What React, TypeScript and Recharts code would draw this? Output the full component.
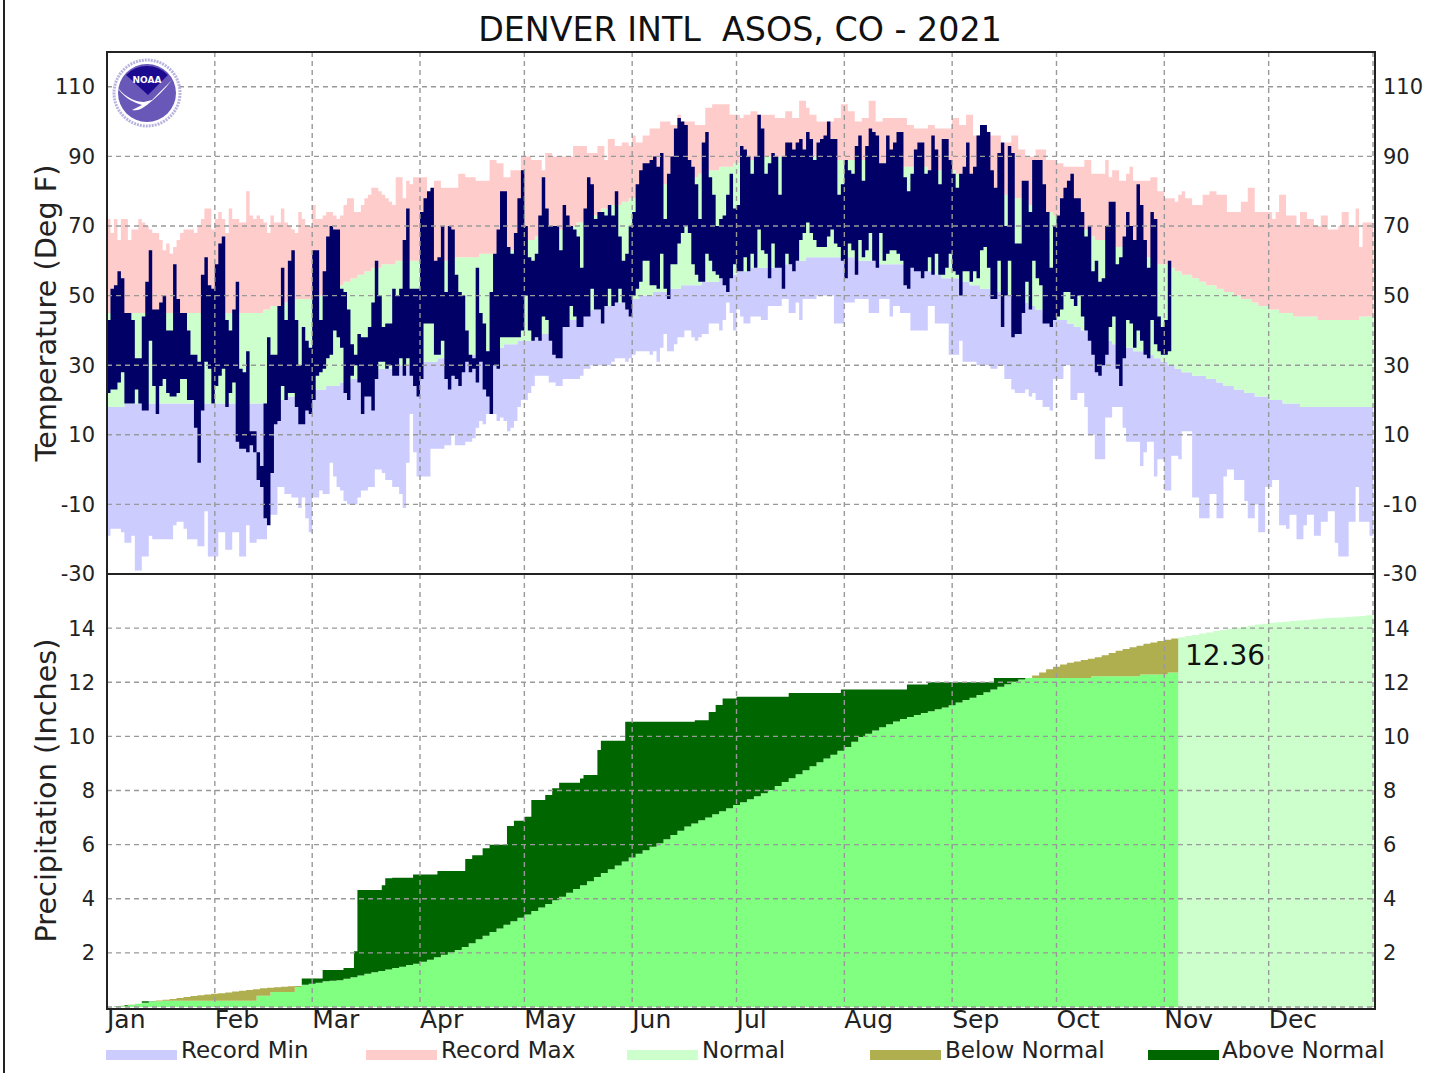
import React from "react";
import { Area, CartesianGrid, ComposedChart, XAxis, YAxis } from "recharts";

const monthLabels = ["Jan", "Feb", "Mar", "Apr", "May", "Jun", "Jul", "Aug", "Sep", "Oct", "Nov", "Dec"];
const monthDays = [0, 31, 59, 90, 120, 151, 181, 212, 243, 273, 304, 334];
const tempTicks = [-30, -10, 10, 30, 50, 70, 90, 110];
const precipTicks = [2, 4, 6, 8, 10, 12, 14];

const obsHigh = [
  43,52,53,57,55,45,45,43,32,32,44,54,63,46,46,48,50,40,40,59,49,45,45,40,33,33,31,56,61,53,52,
  59,65,67,43,40,46,54,29,28,34,11,11,5,1,19,38,33,33,47,58,43,60,63,43,30,41,37,35,
  63,63,43,57,67,70,69,69,52,51,46,36,33,39,38,38,41,48,60,50,41,42,42,52,50,52,66,75,52,52,52,
  74,78,80,81,60,61,70,51,70,69,56,51,50,40,33,32,58,45,42,34,51,62,69,80,80,64,62,68,78,86,
  70,61,60,62,73,84,75,70,70,70,63,76,73,70,69,67,58,75,84,82,72,74,74,73,76,73,80,67,60,62,70,
  74,82,86,88,88,89,90,87,91,72,85,90,98,101,100,99,89,87,82,72,94,97,84,79,70,72,73,79,85,75,
  76,93,92,90,85,90,102,98,85,88,91,90,79,90,94,94,92,94,95,92,97,95,89,94,95,96,100,95,95,79,82,
  89,86,85,93,96,83,93,98,97,96,88,88,96,92,94,97,97,84,80,85,92,94,94,85,86,96,92,82,95,95,89,
  85,81,85,87,94,85,87,96,99,99,97,86,81,91,94,70,93,91,65,65,83,83,74,89,89,89,82,74,58,70,
  73,78,81,83,85,78,78,74,67,70,57,60,54,55,70,77,77,59,61,67,74,70,66,82,76,66,58,74,72,44,41,
  43,60,
];
const obsLow = [
  22,23,23,25,28,19,19,19,23,19,17,17,37,24,16,24,26,22,21,21,22,26,26,20,20,12,2,17,31,29,19,
  24,27,29,18,22,25,8,6,6,5,7,5,-3,-5,-14,-16,-1,13,14,24,20,22,22,18,13,13,17,16,
  20,27,28,29,32,33,40,38,35,22,20,27,30,25,16,21,21,17,26,31,31,29,30,27,27,32,27,32,27,24,21,
  26,42,42,42,33,33,37,26,23,27,26,24,28,31,28,29,25,31,23,21,16,30,29,38,38,38,38,38,38,40,
  50,40,37,38,37,44,43,37,33,32,32,41,41,47,44,41,41,44,44,52,46,46,42,47,52,47,48,52,48,46,44,
  50,52,54,60,60,53,53,52,62,52,49,59,59,65,68,70,68,59,56,54,54,62,60,57,56,55,53,51,55,59,
  57,57,61,57,62,58,69,63,62,55,65,58,58,52,62,59,57,60,66,68,71,68,66,64,64,64,67,69,65,64,60,
  55,65,63,56,66,61,63,68,60,58,68,60,62,63,63,62,60,53,52,58,57,57,55,57,61,56,62,56,56,58,62,
  57,56,50,57,57,54,57,55,63,64,58,49,49,60,41,50,60,38,39,39,45,54,46,60,55,53,42,42,41,43,
  44,46,51,51,49,47,50,44,40,37,33,28,27,30,33,41,44,29,24,32,43,42,35,40,37,33,32,43,36,34,33,
  33,34,
];
const recordMax = [
  72,68,72,66,72,72,66,69,69,72,71,70,69,68,68,66,63,65,62,64,66,68,69,69,69,68,70,72,75,75,69,
  72,74,72,68,75,72,72,71,71,80,73,72,73,72,71,68,73,71,71,75,71,70,69,68,74,72,70,70,
  76,72,72,73,74,74,73,72,73,76,78,78,74,74,76,78,79,81,81,80,79,78,77,76,84,84,78,83,82,84,84,
  84,84,79,79,83,83,81,81,81,81,81,85,85,84,84,84,83,83,83,83,89,89,88,88,84,84,86,86,86,90,
  90,90,89,89,89,86,91,91,90,90,90,90,90,90,93,93,93,93,91,91,91,93,93,89,95,95,93,93,94,94,93,
  96,94,94,96,96,98,98,98,100,100,100,99,99,102,100,100,100,100,99,99,99,104,104,105,105,105,105,105,102,102,
  102,101,102,102,103,103,102,102,102,102,102,101,101,101,103,103,101,101,106,106,104,102,102,100,100,100,100,100,101,101,105,
  105,103,103,100,100,101,101,106,106,100,100,101,101,101,101,101,101,101,99,99,98,98,98,98,99,99,98,98,98,98,98,
  101,101,99,99,102,102,96,96,96,96,96,96,96,96,91,94,94,96,96,92,92,90,90,90,92,92,92,89,89,89,
  88,88,87,87,87,87,87,87,89,89,85,85,85,85,89,84,86,86,83,83,85,87,83,83,83,83,83,84,84,80,80,
  78,78,78,77,79,80,78,78,76,76,76,79,79,80,80,79,79,79,74,74,74,74,77,77,81,81,74,74,74,74,
  74,72,74,79,79,73,73,73,70,74,74,72,72,70,70,73,73,69,69,69,70,74,74,70,70,75,64,71,71,71,67,
];
const recordMin = [
  -19,-17,-17,-17,-18,-21,-21,-19,-29,-29,-25,-25,-19,-20,-20,-20,-20,-20,-20,-16,-15,-15,-17,-20,-20,-20,-22,-22,-12,-25,-25,
  -25,-18,-18,-23,-23,-18,-18,-25,-25,-16,-21,-21,-20,-20,-20,-13,-13,-13,-5,-5,-7,-7,-8,-8,-11,-8,-14,-18,
  -8,-8,-6,-7,-7,2,-2,-5,-6,-9,-10,-10,-10,-8,-6,-6,-5,-5,0,0,-1,-3,-3,-5,-5,-7,-11,2,16,5,-2,
  -2,-2,-2,6,6,6,6,7,7,10,7,7,7,8,8,9,12,14,13,16,16,16,14,15,14,11,12,14,18,20,
  20,22,24,27,27,27,27,25,25,24,24,26,26,26,26,26,27,29,29,30,30,30,30,30,30,31,32,32,32,31,32,
  33,34,34,34,34,33,34,31,35,39,34,34,36,38,38,40,40,38,37,38,39,39,42,42,42,40,43,48,45,40,
  46,44,42,42,44,44,44,43,43,47,47,47,47,49,49,45,45,48,43,49,49,49,49,50,50,50,50,50,42,42,42,
  48,48,48,49,49,49,49,45,45,45,49,49,49,44,47,47,45,45,45,40,40,40,40,40,47,47,42,42,42,42,33,
  33,33,37,31,31,31,31,30,30,30,30,29,29,30,30,26,26,23,22,22,22,23,21,22,20,20,18,18,17,26,
  26,26,30,30,20,20,22,22,18,10,10,3,3,3,15,15,18,18,18,12,8,8,8,8,1,5,8,8,-2,3,3,
  -6,-6,4,4,3,11,11,11,-8,-8,-14,-14,-14,-7,-7,-14,-14,-2,0,0,-3,-3,-3,-9,-14,-14,-10,-18,-18,-5,
  -5,-3,-3,-16,-16,-17,-13,-13,-20,-20,-16,-13,-13,-19,-19,-15,-15,-12,-12,-21,-25,-25,-25,-15,-15,-5,-15,-15,-15,-19,-19,
];
// [first day of the run, value]
const normalHighRuns = [
  [0,45],[45,46],[47,47],[51,48],[54,49],[61,50],[63,51],[64,52],[66,53],[68,54],[70,55],[72,56],[74,57],[76,58],[79,59],[83,60],[100,61],[107,62],
  [115,63],[117,64],[119,65],[121,66],[123,67],[125,68],[127,69],[133,70],[135,71],[137,72],[139,73],[141,74],[142,75],[145,76],[148,77],[150,78],
  [153,79],[155,80],[158,81],[160,82],[163,83],[166,84],[170,85],[173,86],[176,87],[180,88],[183,89],[186,90],[205,89],[220,88],[228,87],[236,86],
  [244,85],[247,84],[250,83],[252,82],[254,81],[256,80],[258,79],[261,78],[263,77],[265,76],[268,75],[270,74],[272,73],[274,72],[276,71],[278,70],
  [280,69],[282,68],[283,67],[284,66],[287,65],[290,64],[293,63],[296,62],[298,61],[301,60],[302,59],[305,58],[307,57],[309,56],[312,55],[314,54],
  [316,53],[319,52],[321,51],[324,50],[326,49],[329,48],[331,47],[334,46],[337,45],[341,44],[348,43],[360,44],
];
const normalLowRuns = [
  [0,18],[5,19],[50,20],[52,21],[55,22],[59,23],[63,24],[67,25],[70,26],[73,27],[76,28],[78,29],[82,30],[87,31],[95,32],[100,33],[106,34],[110,35],
  [114,36],[118,37],[122,38],[125,39],[127,40],[129,41],[131,42],[133,43],[135,44],[137,45],[139,46],[142,47],[145,48],[149,49],[153,50],[157,51],
  [161,52],[165,53],[171,54],[176,55],[180,56],[181,57],[185,58],[192,59],[197,60],[201,61],[215,60],[222,59],[230,58],[235,57],[238,56],[240,55],
  [245,54],[248,53],[251,52],[254,51],[257,50],[260,49],[263,48],[265,47],[267,46],[269,45],[271,44],[273,43],[276,42],[278,41],[280,40],[282,39],
  [284,38],[286,37],[289,36],[292,35],[295,34],[298,33],[301,32],[303,31],[305,30],[307,29],[309,28],[312,27],[316,26],[319,25],[321,24],[324,23],
  [327,22],[330,21],[334,20],[338,19],[343,18],
];
// [first day of the run, accumulated inches]
const observedPrecipRuns = [
  [0,0],[2,0.03],[5,0.07],[8,0.12],[10,0.21],[16,0.23],[43,0.42],[47,0.55],[54,0.74],[56,1.05],[62,1.37],[68,1.44],[71,2.06],[72,4.32],[79,4.5],[80,4.76],
  [82,4.78],[88,4.9],[95,5.03],[103,5.47],[105,5.61],[108,5.87],[110,6.0],[115,6.69],[117,6.88],[120,7.03],[122,7.65],[126,7.83],[128,8.08],[130,8.29],
  [136,8.44],[137,8.57],[141,9.5],[142,9.84],[149,10.54],[169,10.6],[173,10.9],[175,11.16],[177,11.4],[181,11.46],[196,11.6],[211,11.73],[230,11.92],
  [236,12.0],[255,12.16],[283,12.22],[297,12.29],[305,12.36],
];
const lastObservedDay = 308;
// normal accumulation, one reading for every second day of the year
const normalPrecip = [
  0,.02,.05,.08,.12,.16,.2,.24,.27,.3,.33,.37,.41,.43,.46,.49,.51,.54,.57,.6,.63,.66,.69,.71,.73,.75,.77,.78,.82,.86,.9,.95,.97,.99,
  1.04,1.1,1.16,1.23,1.28,1.33,1.39,1.44,1.49,1.55,1.6,1.67,1.75,1.84,1.93,2.02,2.11,2.22,2.36,2.5,2.63,2.77,2.9,3.04,3.17,3.3,3.42,3.55,3.68,3.81,3.94,
  4.07,4.22,4.36,4.5,4.65,4.8,4.95,5.09,5.23,5.38,5.52,5.66,5.79,5.92,6.05,6.2,6.36,6.51,6.67,6.78,6.9,7.0,7.12,7.23,7.34,7.46,7.57,7.68,7.79,7.9,
  8.02,8.17,8.31,8.45,8.6,8.75,8.9,9.04,9.18,9.32,9.47,9.61,9.8,9.98,10.1,10.22,10.34,10.45,10.55,10.64,10.72,10.79,10.86,10.93,11.0,11.07,11.15,
  11.25,11.34,11.43,11.53,11.63,11.73,11.83,11.93,12.02,12.1,12.16,12.25,12.36,12.48,12.57,12.66,12.72,12.77,12.82,12.87,12.92,13.0,13.08,13.16,13.23,
  13.29,13.35,13.42,13.47,13.52,13.57,13.62,13.66,13.71,13.75,13.8,13.84,13.89,13.93,13.98,14.02,14.05,14.09,14.13,14.16,14.2,14.22,14.24,14.26,14.28,
  14.3,14.33,14.35,14.37,14.38,14.39,14.41,14.43,14.45,14.48,14.53,
];

const runValue = (runs: number[][], day: number) => {
  let v = runs[0][1];
  for (const r of runs) if (r[0] <= day) v = r[1];
  return v;
};

const tempRows = recordMax.map((mx, day) => {
  const nh = runValue(normalHighRuns, day);
  const nl = runValue(normalLowRuns, day);
  const oi = day === obsHigh.length ? day - 1 : day;
  return {
    day,
    belowNormal: [recordMin[day], nl],
    normalBand: [nl, nh],
    aboveNormal: [nh, mx],
    observed: oi < obsHigh.length ? [obsLow[oi], obsHigh[oi]] : null,
  };
});

const precipRows = recordMax.map((_, day) => {
  const normal = normalPrecip[Math.floor(day / 2)];
  const seen = day <= lastObservedDay;
  const obs = seen ? runValue(observedPrecipRuns, day) : null;
  return {
    day,
    base: obs === null ? null : [0, Math.min(obs, normal)],
    deficit: obs === null ? null : [Math.min(obs, normal), normal],
    surplus: obs === null ? null : [normal, Math.max(obs, normal)],
    normalFuture: day >= lastObservedDay ? [0, normal] : null,
  };
});

const FONT = "'DejaVu Sans', sans-serif";
const TEXT = "#222";
const tickStyle = { fontSize: 21, fill: TEXT, fontFamily: FONT };
const GRID = "#999";

const legendItems = [
  { name: "Record Min", color: "#CCCCFF", x: 106, tx: 181 },
  { name: "Record Max", color: "#FFCCCC", x: 366, tx: 441 },
  { name: "Normal", color: "#CCFFCC", x: 627, tx: 702 },
  { name: "Below Normal", color: "#AFAF50", x: 870, tx: 945 },
  { name: "Above Normal", color: "#006600", x: 1148, tx: 1222 },
];

const area = (key: string, color: string) => (
  <Area
    key={key}
    dataKey={key}
    type="stepAfter"
    stroke="none"
    fill={color}
    fillOpacity={1}
    dot={false}
    activeDot={false}
    isAnimationActive={false}
    yAxisId="left"
  />
);

// keeps the right-hand axis in use so that it draws its labels
const rightScale = (key: string) => (
  <Area dataKey={key} type="stepAfter" stroke="none" fill="none" dot={false} activeDot={false} isAnimationActive={false} yAxisId="right" legendType="none" />
);

const MonthTick = (p: any) => (
  <text x={p.x} y={p.y + 13} textAnchor="start" fontSize={25} fontFamily={FONT} fill={TEXT}>
    {monthLabels[monthDays.indexOf(p.payload.value)]}
  </text>
);

function Logo() {
  return (
    <svg width={70} height={70} viewBox="0 0 70 70" style={{ position: "absolute", left: 112, top: 58 }}>
      <circle cx={35} cy={35} r={33} fill="#fff" stroke="#b8b4e0" strokeWidth={3} strokeDasharray="2 1" />
      <circle cx={35} cy={35} r={29} fill="#6a58b8" />
      <path d="M14 17 A29 29 0 0 1 56 17 L36 37 Z" fill="#1c0a90" />
      <path d="M6 30 C14 40 24 44 32 44 L40 42 L60 22 C52 32 44 40 35 47 C28 52 24 53 20 52 L30 47 C20 44 10 38 6 30 Z" fill="#fff" />
      <text x={35} y={25} textAnchor="middle" fontSize={9} fontWeight="bold" fill="#fff" fontFamily={FONT}>NOAA</text>
    </svg>
  );
}

export default function App() {
  return (
    <div style={{ position: "absolute", left: 0, top: 0, width: 1447, height: 1073, background: "#fff", overflow: "hidden", fontFamily: FONT }}>
      <div style={{ position: "absolute", left: 3, top: 0, width: 2, height: 1073, background: "#222" }} />
      <div style={{ position: "absolute", left: 107, width: 1266, top: 10, textAlign: "center", fontSize: 33.3, lineHeight: "40px", color: "#111", whiteSpace: "pre" }}>
        {"DENVER INTL  ASOS, CO - 2021"}
      </div>

      <div style={{ position: "absolute", left: 0, top: 574 }}>
        <ComposedChart width={1447} height={473} data={precipRows} margin={{ top: 0, right: 0, bottom: 0, left: 0 }}>
          <XAxis dataKey="day" type="number" domain={[0, 364]} ticks={monthDays} interval={0} axisLine={false} tickLine={false} height={40} tick={<MonthTick />} />
          <YAxis
            yAxisId="left"
            width={107}
            domain={[0, 16]}
            ticks={precipTicks}
            interval={0}
            axisLine={false}
            tickLine={false}
            tickMargin={6}
            tick={tickStyle}
            label={{ value: "Precipitation (Inches)", angle: -90, position: "insideLeft", offset: 46, style: { textAnchor: "middle", fontSize: 28.7, fill: TEXT, fontFamily: FONT } }}
          />
          <YAxis yAxisId="right" orientation="right" width={74} domain={[0, 16]} ticks={precipTicks} interval={0} axisLine={false} tickLine={false} tickMargin={4} tick={tickStyle} />
          {area("normalFuture", "#CCFFCC")}
          {area("base", "#80FF80")}
          {area("deficit", "#AFAF50")}
          {area("surplus", "#006600")}
          {rightScale("base")}
          <CartesianGrid yAxisId="left" stroke={GRID} strokeWidth={1.4} strokeDasharray="5 4" zIndex={1000} />
        </ComposedChart>
      </div>

      <div style={{ position: "absolute", left: 0, top: 0 }}>
        <ComposedChart width={1447} height={600} data={tempRows} margin={{ top: 52, right: 0, bottom: 26, left: 0 }}>
          <XAxis dataKey="day" type="number" domain={[0, 364]} ticks={monthDays} hide />
          <YAxis
            yAxisId="left"
            width={107}
            domain={[-30, 120]}
            ticks={tempTicks}
            interval={0}
            axisLine={false}
            tickLine={false}
            tickMargin={6}
            tick={tickStyle}
            label={{ value: "Temperature (Deg F)", angle: -90, position: "insideLeft", offset: 46, style: { textAnchor: "middle", fontSize: 28.7, fill: TEXT, fontFamily: FONT } }}
          />
          <YAxis yAxisId="right" orientation="right" width={74} domain={[-30, 120]} ticks={tempTicks} interval={0} axisLine={false} tickLine={false} tickMargin={4} tick={tickStyle} />
          {area("belowNormal", "#CCCCFF")}
          {area("normalBand", "#CCFFCC")}
          {area("aboveNormal", "#FFCCCC")}
          {area("observed", "#000066")}
          {rightScale("normalBand")}
          <CartesianGrid yAxisId="left" stroke={GRID} strokeWidth={1.4} strokeDasharray="5 4" zIndex={1000} />
        </ComposedChart>
      </div>

      <div style={{ position: "absolute", left: 106, top: 51, width: 1266, height: 955, border: "2px solid #222", pointerEvents: "none" }} />
      <div style={{ position: "absolute", left: 106, top: 572.5, width: 1268, height: 2, background: "#222" }} />
      <Logo />
      <div style={{ position: "absolute", left: 1185, top: 639, fontSize: 28, color: "#111" }}>12.36</div>

      {legendItems.map((it) => (
        <React.Fragment key={it.name}>
          <div style={{ position: "absolute", left: it.x, top: 1050, width: 71, height: 10, background: it.color }} />
          <div style={{ position: "absolute", left: it.tx, top: 1037, fontSize: 23, color: "#222", whiteSpace: "nowrap" }}>{it.name}</div>
        </React.Fragment>
      ))}
    </div>
  );
}
